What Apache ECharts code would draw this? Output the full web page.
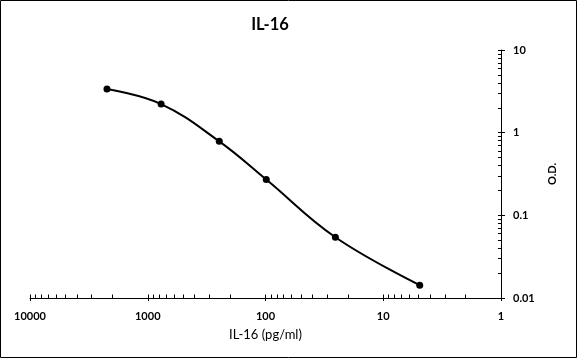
<!DOCTYPE html>
<html>
<head>
<meta charset="utf-8">
<script src="https://cdn.jsdelivr.net/npm/echarts@6/dist/echarts.min.js"></script>
<style>
html,body{margin:0;padding:0;background:#fff;}
#c{width:577px;height:358px;}
</style>
</head>
<body>
<div id="c"></div>
<script>
// Data
var concentrations = [2220, 770, 247, 98.5, 25.5, 4.9];   // pg/ml
var odValues = [3.37, 2.22, 0.785, 0.271, 0.0543, 0.0143];
var xTickLabels = ['10000', '1000', '100', '10', '1'];
var yTickLabels = ['10', '1', '0.1', '0.01'];

var labelFont = 'Lato, sans-serif';

// log-space positions for ticks (minor + major) used only for tick decoration
function logTicks(minExp, maxExp) {
  var out = [];
  for (var e = minExp; e < maxExp; e++) {
    for (var k = 1; k <= 9; k++) out.push(e + Math.log10(k));
  }
  out.push(maxExp);
  return out;
}

var chart = echarts.init(document.getElementById('c'), null, {renderer: 'canvas'});
var grid = {left: 30, right: 76, top: 50, bottom: 60};

var option = {
  animation: false,
  title: {
    text: 'IL-16',
    left: 265, top: 11, textAlign: 'center',
    textStyle: {fontFamily: 'Lato, sans-serif', fontWeight: 'bold', fontSize: 16.5, color: '#000'}
  },
  graphic: [{
    type: 'rect', shape: {x: 0.5, y: 0.5, width: 576, height: 357},
    style: {fill: 'none', stroke: '#000', lineWidth: 1}, silent: true, z: 100
  }],
  grid: grid,
  xAxis: [{
    type: 'log', logBase: 10, min: 1, max: 10000, inverse: true,
    name: 'IL-16 (pg/ml)', nameLocation: 'middle', nameGap: 30,
    nameTextStyle: {fontFamily: 'Lato, sans-serif', fontSize: 13, color: '#000'},
    axisLine: {show: true, onZero: false, lineStyle: {color: '#000', width: 1}},
    axisTick: {show: true, inside: false, length: 3, lineStyle: {color: '#000'}},
    axisLabel: {
      margin: 13, color: '#000', fontWeight: 'bold', fontSize: 11, fontFamily: labelFont,
      formatter: function (v) { var i = Math.round(4 - Math.log10(v)); return xTickLabels[i]; }
    },
    splitLine: {show: false}, minorTick: {show: false}
  }, {
    type: 'value', min: 0, max: 4, inverse: true, position: 'bottom', gridIndex: 0,
    axisLine: {show: false, onZero: false},
    axisTick: {show: true, inside: true, length: 3.5, customValues: logTicks(0, 4), lineStyle: {color: '#000'}},
    axisLabel: {show: false}, splitLine: {show: false}
  }],
  yAxis: [{
    type: 'log', logBase: 10, min: 0.01, max: 10, position: 'right',
    name: 'O.D.', nameLocation: 'middle', nameGap: 46, nameRotate: 90,
    nameTextStyle: {fontFamily: 'Lato, sans-serif', fontWeight: 'bold', fontSize: 11, color: '#000'},
    axisLine: {show: true, onZero: false, lineStyle: {color: '#000', width: 1}},
    axisTick: {show: true, inside: false, length: 4, lineStyle: {color: '#000'}},
    axisLabel: {
      margin: 12, color: '#000', fontWeight: 'bold', fontSize: 11, fontFamily: labelFont,
      formatter: function (v) { var i = Math.round(1 - Math.log10(v)); return yTickLabels[i]; }
    },
    splitLine: {show: false}, minorTick: {show: false}
  }, {
    type: 'value', min: -2, max: 1, position: 'right',
    axisLine: {show: false, onZero: false},
    axisTick: {show: true, inside: true, length: 3, customValues: logTicks(-2, 1), lineStyle: {color: '#000'}},
    axisLabel: {show: false}, splitLine: {show: false}
  }],
  series: [{
    type: 'line',
    xAxisIndex: 0, yAxisIndex: 0,
    data: concentrations.map(function (c, i) { return [c, odValues[i]]; }),
    smooth: 0.4,
    symbol: 'circle', symbolSize: 7,
    lineStyle: {color: '#000', width: 2},
    itemStyle: {color: '#000'},
    z: 5
  }]
};
chart.setOption(option);
</script>
</body>
</html>
